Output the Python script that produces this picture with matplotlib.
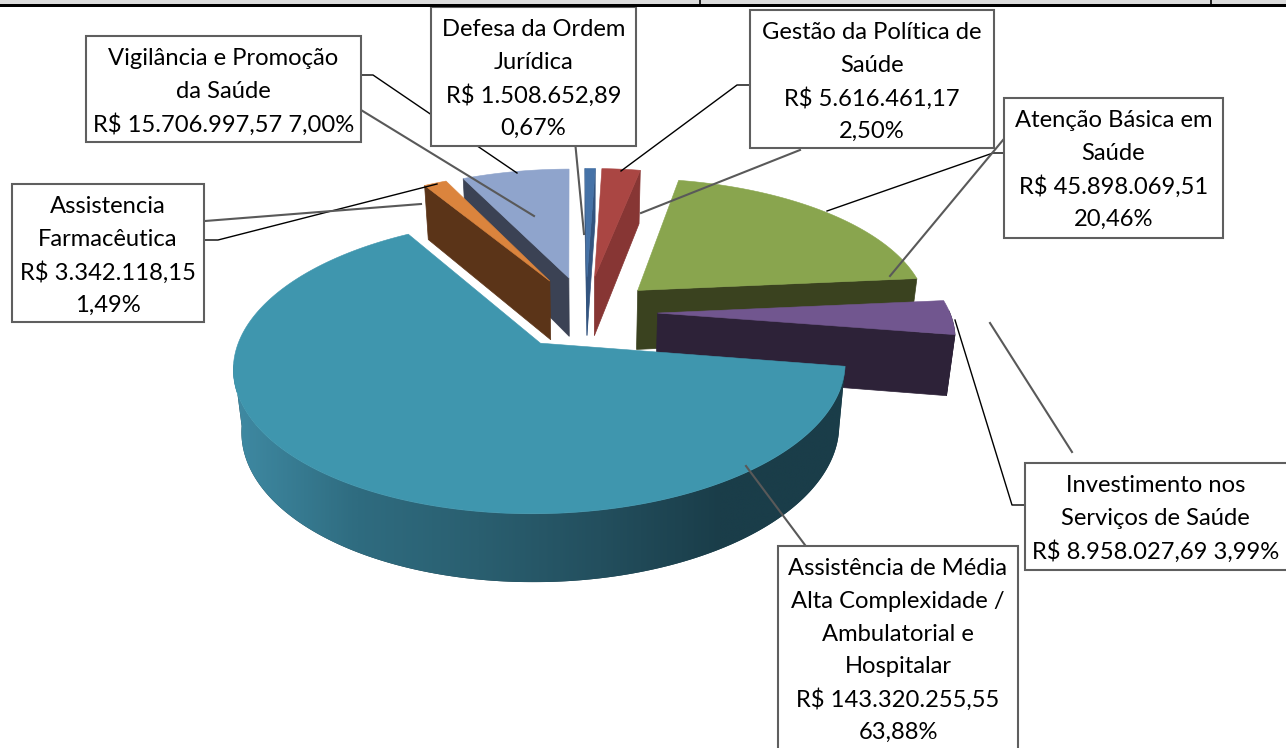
import numpy as np
import matplotlib
matplotlib.use("Agg")
import matplotlib.pyplot as plt
from matplotlib.patches import Rectangle, Polygon
from matplotlib.colors import LinearSegmentedColormap

# ---------- data ----------
categories = ["Assistência de Média", "Assistencia Farmacêutica", "Vigilância", "Defesa",
              "Gestão", "Atenção Básica", "Investimento"]
values = [143320255.55, 3342118.15, 15706997.57, 1508652.89,
          5616461.17, 45898069.51, 8958027.69]
labels = [
    "Assistência de Média\nAlta Complexidade /\nAmbulatorial e\nHospitalar\nR$ 143.320.255,55\n63,88%",
    "Assistencia\nFarmacêutica\nR$ 3.342.118,15\n1,49%",
    "Vigilância e Promoção\nda Saúde\nR$ 15.706.997,57 7,00%",
    "Defesa da Ordem\nJurídica\nR$ 1.508.652,89\n0,67%",
    "Gestão da Política de\nSaúde\nR$ 5.616.461,17\n2,50%",
    "Atenção Básica em\nSaúde\nR$ 45.898.069,51\n20,46%",
    "Investimento nos\nServiços de Saúde\nR$ 8.958.027,69 3,99%",
]

# ---------- styles ----------
top_colors = ["#3f96ae", "#db843d", "#8fa4cc", "#4572a7", "#aa4643", "#89a54e", "#71568f"]
side_colors = ["#1a3d49", "#5b3418", "#3b4254", "#33547f", "#873634", "#3a421f", "#2d2238"]
explode = [0.27, 0.27, 0.27, 0.27, 0.27, 0.245, 0.245]
wall_limit = [-0.14, 0.02, 0.02, 0.02, 0.02, 0.02, 0.02]
draw_order = [2, 3, 4, 5, 1, 6, 0]
boxes = [(778, 546, 1018, 760), (12, 184, 204, 322), (86, 36, 361, 142), (431, 7, 636, 146),
         (750, 10, 994, 148), (1004, 98, 1223, 238), (1025, 463, 1290, 570)]
line_gap = 32.8
GX, GY, R, RY, K = 586.0, 312.0, 292.0, 134.6, 0.15
DEPTH, K2, SHRINK = 60.0, 0.10, 0.977
START = -9.0   # degrees, where the first slice begins, running clockwise

plt.rcParams['font.family'] = ['Lato', 'DejaVu Sans']
fig = plt.figure(figsize=(12.86, 7.48), dpi=100)
ax = fig.add_axes([0, 0, 1, 1])
ax.set_xlim(0, 1286)
ax.set_ylim(748, 0)
ax.axis("off")


def top(u, v):
    w = 1 + K * v
    return GX + R * u / w, GY - RY * v / w


def bottom(u, v):
    x, y = top(u, v)
    return GX + (x - GX) * SHRINK, y + DEPTH / (1 + K2 * v)


vals = np.array(values)
sweep = vals / vals.sum() * 360.0
ends = START - np.cumsum(sweep)
starts = ends + sweep

wall_cmap = LinearSegmentedColormap.from_list(
    "wall", ["#3f8aa3", "#2f6c80", "#2a5f70", "#234f5e", "#1a3d49", "#1a3d49"])

for i in draw_order:
    t2, t1 = starts[i], ends[i]          # t1 < t2 in degrees
    mid = np.radians((t1 + t2) / 2)
    ex, ey = explode[i] * np.cos(mid), explode[i] * np.sin(mid)
    ts = np.radians(np.linspace(t1, t2, max(int(sweep[i] * 1.5), 6)))
    us, vs = ex + np.cos(ts), ey + np.sin(ts)

    # outer wall where it faces the viewer
    keep = np.sin(ts) < wall_limit[i]
    if keep.any():
        xa, ya = top(us[keep], vs[keep])
        xb, yb = bottom(us[keep], vs[keep])
        wall_x = np.r_[xa, xb[::-1]]
        wall_y = np.r_[ya, yb[::-1]]
        poly = Polygon(np.c_[wall_x, wall_y], closed=True, fc=side_colors[i],
                       ec=side_colors[i] if i != 0 else "none", lw=0.5, zorder=1)
        ax.add_patch(poly)
        if i == 0:
            im = ax.imshow(np.linspace(0, 1, 400)[None, :], cmap=wall_cmap, aspect="auto",
                           extent=(wall_x.min(), wall_x.max(), wall_y.max(), wall_y.min()),
                           zorder=1, interpolation="bilinear")
            im.set_clip_path(poly)
            ax.set_xlim(0, 1286)
            ax.set_ylim(748, 0)

    # cut faces that face the viewer
    for t, visible in ((t1, np.cos(np.radians(t1)) > 0), (t2, np.cos(np.radians(t2)) < 0)):
        if visible:
            tr = np.radians(t)
            p, q = ex + np.cos(tr), ey + np.sin(tr)
            xs = [top(ex, ey)[0], top(p, q)[0], bottom(p, q)[0], bottom(ex, ey)[0]]
            ys = [top(ex, ey)[1], top(p, q)[1], bottom(p, q)[1], bottom(ex, ey)[1]]
            ax.fill(xs, ys, color=side_colors[i], lw=0.5, zorder=1)

    # top face
    x, y = top(np.r_[ex, us], np.r_[ey, vs])
    ax.fill(x, y, color=top_colors[i], lw=0.4, zorder=1)

# table remnant along the top
ax.add_patch(Rectangle((0, 0), 1286, 4, fc="#dcdcdc", ec="none", zorder=2))
ax.add_patch(Rectangle((0, 4), 1286, 3.4, fc="black", ec="none", zorder=7))
for xv in (700, 1211):
    ax.plot([xv, xv], [0, 4], color="black", lw=1.2, zorder=3)

# leader lines
black_lines = [
    ([205, 218, 437], [240, 240, 184]),
    ([361, 373, 517], [75, 75, 173]),
    ([750, 737, 621], [85, 85, 171]),
    ([1005, 993, 827], [153, 153, 211]),
    ([1025, 1012, 955], [505, 505, 320]),
]
gray_lines = [
    ([205, 421], [221, 204]),
    ([361, 534], [110, 216]),
    ([575, 584], [141, 234]),
    ([800, 641], [150, 213]),
    ([1003, 890], [140, 276]),
    ([1072, 990], [452, 323]),
    ([805, 746], [545, 466]),
]
for xs, ys in black_lines:
    ax.plot(xs, ys, color="black", lw=1.0, zorder=4)
for xs, ys in gray_lines:
    ax.plot(xs, ys, color="#595959", lw=1.5, zorder=4)

# label boxes
for (x0, y0, x1, y1), text in zip(boxes, labels):
    ax.add_patch(Rectangle((x0, y0), x1 - x0, y1 - y0, fc="white", ec="#5f5f5f", lw=1.5, zorder=5))
    first = y0 + 22.5
    for n, line in enumerate(text.split("\n")):
        ax.text((x0 + min(x1, 1286)) / 2, first + n * line_gap, line, ha="center", va="center",
                fontsize=17.1, color="black", zorder=6)

fig.savefig("out.png", dpi=100, facecolor="white")
